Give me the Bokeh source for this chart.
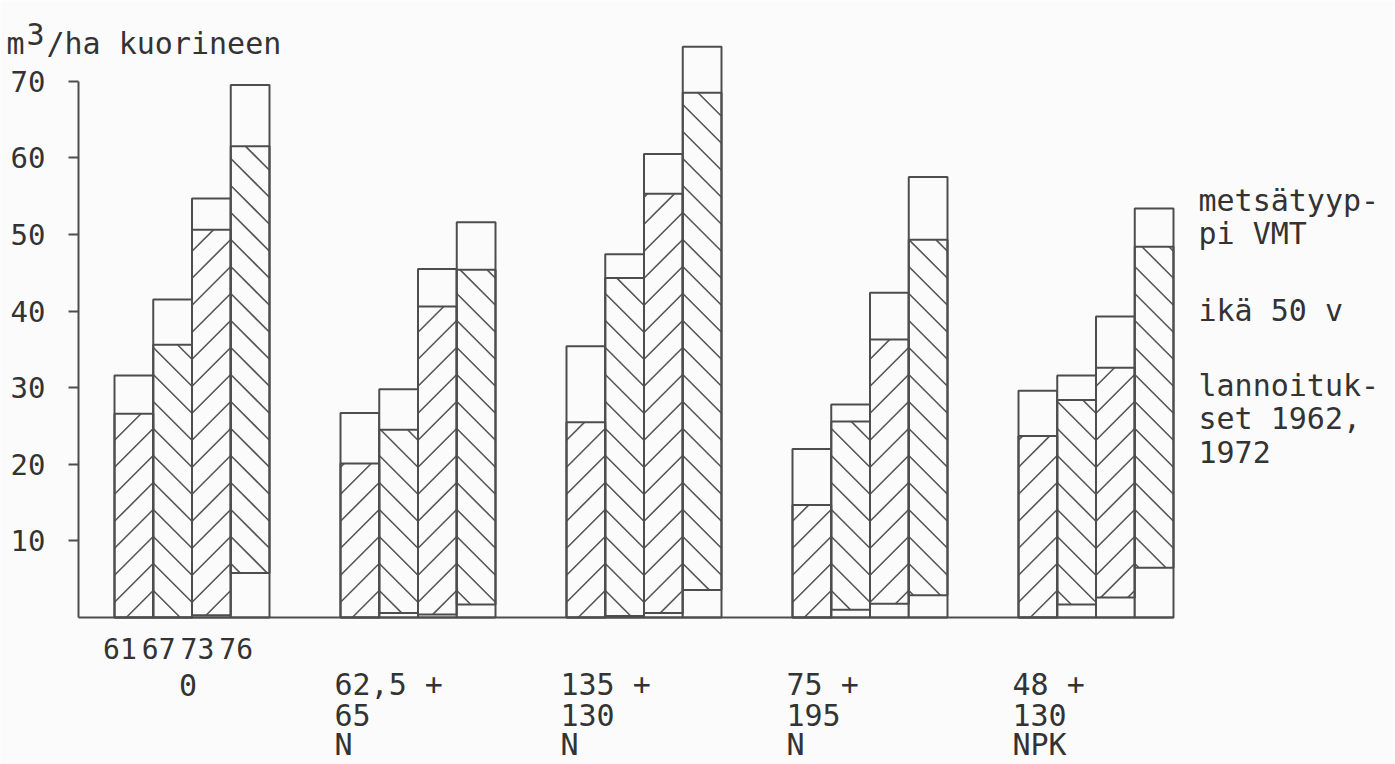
import math
from bokeh.plotting import figure
from bokeh.models import Range1d, FixedTicker, Label, LinearAxis
from bokeh.embed import file_html
from bokeh.resources import INLINE

# ---------------- data ----------------
years = ["61", "67", "73", "76"]
group_labels = ["0", "62,5 +\n65\nN", "135 +\n130\nN", "75 +\n195\nN", "48 +\n130\nNPK"]
y_ticks = [10, 20, 30, 40, 50, 60, 70]
y_title = ["m", "3", "/ha kuorineen"]
side_notes = ["metsätyyp-\npi VMT", "ikä 50 v", "lannoituk-\nset 1962,\n1972"]

# total height of each bar (m3/ha), per group, years 61, 67, 73, 76
total_g0 = [31.6, 41.5, 54.7, 69.5]
total_g1 = [26.7, 29.8, 45.5, 51.6]
total_g2 = [35.4, 47.4, 60.5, 74.5]
total_g3 = [22.0, 27.8, 42.4, 57.5]
total_g4 = [29.6, 31.6, 39.3, 53.4]

# upper edge of the hatched part
hatch_top_g0 = [26.6, 35.6, 50.6, 61.5]
hatch_top_g1 = [20.1, 24.5, 40.6, 45.4]
hatch_top_g2 = [25.5, 44.3, 55.3, 68.5]
hatch_top_g3 = [14.7, 25.6, 36.3, 49.3]
hatch_top_g4 = [23.7, 28.4, 32.6, 48.4]

# lower edge of the hatched part
hatch_bot_g0 = [0.0, 0.0, 0.3, 5.8]
hatch_bot_g1 = [0.0, 0.6, 0.4, 1.7]
hatch_bot_g2 = [0.0, 0.2, 0.6, 3.6]
hatch_bot_g3 = [0.0, 1.0, 1.8, 2.9]
hatch_bot_g4 = [0.0, 1.7, 2.6, 6.5]

totals = [total_g0, total_g1, total_g2, total_g3, total_g4]
hatch_tops = [hatch_top_g0, hatch_top_g1, hatch_top_g2, hatch_top_g3, hatch_top_g4]
hatch_bots = [hatch_bot_g0, hatch_bot_g1, hatch_bot_g2, hatch_bot_g3, hatch_bot_g4]

# ---------------- layout / style ----------------
W, H = 1395, 764
BG = "#fbfbfb"
LINE = "#4d4d4d"
HATCH = "#555555"
TEXT = "#333333"
FONT = "DejaVu Sans Mono"

PX_X = 38.75          # pixels per bar width
STEP = 226 / PX_X     # group step in bar widths
PIC_AXIS = 78         # picture x of the y axis
PIC_BAR0 = 114        # picture x of first bar's left edge
PIC_BASE = 617        # picture y of value 0
PX_Y = 7.661          # pixels per unit on y

X_START = -PIC_BAR0 / PX_X
X_END = (W - PIC_BAR0) / PX_X
Y_START = -(H - PIC_BASE) / PX_Y
Y_END = PIC_BASE / PX_Y

HATCH_SLOPE = PX_X / PX_Y      # 45 degree lines on screen
HATCH_GAP = 27 / PX_Y          # vertical distance between hatch lines


def dx(px):
    return (px - PIC_BAR0) / PX_X


def dy(py):
    return (PIC_BASE - py) / PX_Y


p = figure(width=W, height=H,
           x_range=Range1d(X_START, X_END), y_range=Range1d(Y_START, Y_END),
           output_backend="svg", toolbar_location=None,
           x_axis_location=None, y_axis_location=None,
           min_border=0, min_border_left=0, min_border_right=0,
           min_border_top=0, min_border_bottom=0,
           background_fill_color=BG, border_fill_color=BG,
           outline_line_color=None)
p.xgrid.visible = False
p.ygrid.visible = False

# y axis
ya = LinearAxis(fixed_location=dx(PIC_AXIS))
ya.ticker = FixedTicker(ticks=y_ticks)
ya.bounds = (0, max(y_ticks))
ya.major_tick_out = 10
ya.major_tick_in = 0
ya.minor_tick_line_color = None
ya.axis_line_color = LINE
ya.axis_line_width = 2
ya.major_tick_line_color = LINE
ya.major_tick_line_width = 2
ya.major_label_standoff = 23
ya.major_label_text_font = FONT
ya.major_label_text_font_size = "29px"
ya.major_label_text_color = TEXT
p.add_layout(ya, "left")

# x axis: only the base line
xa = LinearAxis(fixed_location=0)
xa.ticker = FixedTicker(ticks=[])
xa.major_tick_line_color = None
xa.minor_tick_line_color = None
xa.major_label_text_font_size = "0px"
xa.axis_line_color = LINE
xa.axis_line_width = 2
xa.bounds = (dx(PIC_AXIS), (len(totals) - 1) * STEP + len(years))
p.add_layout(xa, "below")

# bar outlines (full height)
xs_all, tops_all = [], []
for g in range(len(totals)):
    for j in range(len(years)):
        xs_all.append(g * STEP + j + 0.5)
        tops_all.append(totals[g][j])
p.vbar(x=xs_all, width=1, bottom=0, top=tops_all,
       fill_color=BG, line_color=LINE, line_width=2)

# hatch lines: "/" for 61 and 73, "\" for 67 and 76
sx0, sy0, sx1, sy1 = [], [], [], []
for g in range(len(totals)):
    for j in range(len(years)):
        left = g * STEP + j
        right = left + 1
        bot, top = hatch_bots[g][j], hatch_tops[g][j]
        s, gap = HATCH_SLOPE, HATCH_GAP
        k0 = math.floor((bot - s) / gap) - 1
        k1 = math.ceil((top + s) / gap) + 1
        for k in range(k0, k1 + 1):
            c = k * gap
            if j % 2 == 0:   # "/" through (right, c)
                xa_ = max(left, right + (bot - c) / s)
                xb_ = min(right, right + (top - c) / s)
                if xb_ - xa_ > 0.02:
                    sx0.append(xa_); sy0.append(c + s * (xa_ - right))
                    sx1.append(xb_); sy1.append(c + s * (xb_ - right))
            else:            # "\" through (left, c)
                xa_ = max(left, left + (c - top) / s)
                xb_ = min(right, left + (c - bot) / s)
                if xb_ - xa_ > 0.02:
                    sx0.append(xa_); sy0.append(c - s * (xa_ - left))
                    sx1.append(xb_); sy1.append(c - s * (xb_ - left))
p.segment(x0=sx0, y0=sy0, x1=sx1, y1=sy1, line_color=HATCH, line_width=1.6)

# outlines of the hatched parts
for j in range(len(years)):
    xs = [g * STEP + j + 0.5 for g in range(len(totals))]
    tops = [hatch_tops[g][j] for g in range(len(totals))]
    bots = [hatch_bots[g][j] for g in range(len(totals))]
    p.vbar(x=xs, width=1, bottom=bots, top=tops,
           fill_color=None, line_color=LINE, line_width=2)


def add_text(x, y, txt, size="30px", align="left", baseline="middle"):
    p.add_layout(Label(x=x, y=y, text=txt, text_font=FONT,
                       text_font_size=size, text_color=TEXT,
                       text_align=align, text_baseline=baseline))


# y title: m^3/ha kuorineen
add_text(dx(6), dy(43), y_title[0], baseline="alphabetic")
add_text(dx(26), dy(33), y_title[1], baseline="alphabetic")
add_text(dx(46), dy(43), y_title[2], baseline="alphabetic")

# year labels under the first group
for j, yr in enumerate(years):
    add_text(j + 0.5 - 14 / PX_X, dy(648), yr, size="28px", align="center")

# group labels
ROW = 30
for g, lab in enumerate(group_labels):
    rows = lab.split("\n")
    for r, row in enumerate(rows):
        if g == 0:
            add_text(g * STEP + 2 - 4 / PX_X, dy(684 + ROW * r), row, align="center")
        else:
            add_text(g * STEP - 6 / PX_X, dy(684 + ROW * r), row)

# side notes
block_starts = [200, 310, 385]
for b, note in enumerate(side_notes):
    for r, row in enumerate(note.split("\n")):
        add_text(dx(1198), dy(block_starts[b] + 33 * r), row)

open("out.html", "w").write(file_html(p, INLINE))
